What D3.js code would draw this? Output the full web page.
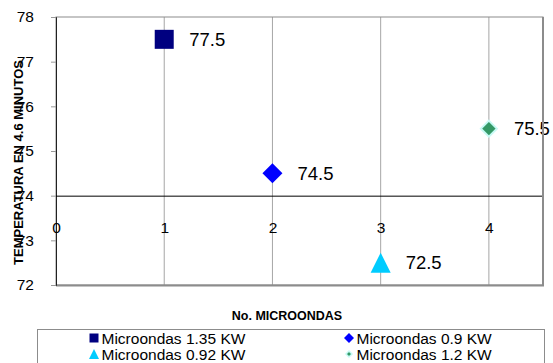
<!DOCTYPE html>
<html>
<head>
<meta charset="utf-8">
<script src="https://cdn.jsdelivr.net/npm/d3@7/dist/d3.min.js"></script>
<style>
  html, body { margin: 0; padding: 0; background: #fff; }
  svg { display: block; font-family: "Liberation Sans", Arial, sans-serif; }
</style>
</head>
<body>
<svg id="chart" width="553" height="363"></svg>
<script>
// Series: one point per microwave oven
const seriesNames = ["Microondas 1.35 KW", "Microondas 0.9 KW", "Microondas 0.92 KW", "Microondas 1.2 KW"];
const microondas = [1, 2, 3, 4];
const temperaturas = [77.5, 74.5, 72.5, 75.5];
const yTicks = [72, 73, 74, 75, 76, 77, 78];
const xTicks = [0, 1, 2, 3, 4];

// marker shapes: size = width in px
const squareShape = {
  draw(ctx, w) { const h = w / 2; ctx.moveTo(-h, -h); ctx.lineTo(h, -h); ctx.lineTo(h, h); ctx.lineTo(-h, h); ctx.closePath(); }
};
const diamondShape = {
  draw(ctx, w) { const h = w / 2; ctx.moveTo(0, -h); ctx.lineTo(h, 0); ctx.lineTo(0, h); ctx.lineTo(-h, 0); ctx.closePath(); }
};
const triangleShape = {
  draw(ctx, w) { const h = w / 2; ctx.moveTo(0, -h); ctx.lineTo(h, h); ctx.lineTo(-h, h); ctx.closePath(); }
};

const symbolsSpec = [
  { type: squareShape, size: 19, fill: "#000080", stroke: "none", lSize: 9 },
  { type: diamondShape, size: 20, fill: "#0000FF", stroke: "none", lSize: 10 },
  { type: triangleShape, size: 20, fill: "#00CCFF", stroke: "none", lSize: 10 },
  { type: diamondShape, size: 16, fill: "#339966", stroke: "#C8FAF5", lSize: 6 }
];

const svg = d3.select("#chart");
const plot = { left: 56, right: 543, top: 17, bottom: 285 };

const x = d3.scaleLinear().domain([0, 4.5]).range([plot.left, plot.right]);
const y = d3.scaleLinear().domain([72, 78]).range([plot.bottom, plot.top]);

// vertical gridlines
svg.append("g")
  .selectAll("line")
  .data(xTicks.filter(d => d > 0))
  .join("line")
  .attr("x1", d => x(d)).attr("x2", d => x(d))
  .attr("y1", plot.top).attr("y2", plot.bottom)
  .attr("stroke", "#a6a6a6").attr("stroke-width", 1);

// plot frame
svg.append("rect")
  .attr("x", plot.left).attr("y", plot.top)
  .attr("width", plot.right - plot.left).attr("height", plot.bottom - plot.top)
  .attr("fill", "none").attr("stroke", "#8c8c8c").attr("stroke-width", 1);
svg.append("line")
  .attr("x1", plot.left).attr("x2", plot.right + 1)
  .attr("y1", plot.bottom + 0.5).attr("y2", plot.bottom + 0.5)
  .attr("stroke", "#8c8c8c").attr("stroke-width", 2);

// y axis
const yAxis = svg.append("g")
  .attr("transform", `translate(${plot.left},0)`)
  .call(d3.axisLeft(y).tickValues(yTicks).tickSize(5).tickPadding(17).tickFormat(d3.format("d")));
yAxis.select(".domain").attr("stroke", "#222");
yAxis.selectAll(".tick line").attr("stroke", "#999");
yAxis.selectAll(".tick text")
  .attr("font-size", "15.5px").attr("fill", "#000")
  .attr("font-family", "Liberation Sans, Arial, sans-serif");

// x axis crossing at 74
const xAxis = svg.append("g")
  .attr("transform", `translate(0,${y(74)})`)
  .call(d3.axisBottom(x).tickValues(xTicks).tickSize(0).tickPadding(26).tickFormat(d3.format("d")));
xAxis.select(".domain").attr("stroke", "#000").attr("d", `M${plot.left},0.5H${plot.right}`);
xAxis.selectAll(".tick text")
  .attr("font-size", "15.5px").attr("fill", "#000")
  .attr("font-family", "Liberation Sans, Arial, sans-serif");

// points
const pts = microondas.map((m, i) => ({ m, t: temperaturas[i], s: symbolsSpec[i] }));
svg.append("g")
  .selectAll("path")
  .data(pts)
  .join("path")
  .attr("transform", d => `translate(${x(d.m)},${y(d.t)})`)
  .attr("d", d => d3.symbol().type(d.s.type).size(d.s.size)())
  .attr("fill", d => d.s.fill)
  .attr("stroke", d => d.s.stroke)
  .attr("stroke-width", 2);

// value labels
svg.append("g")
  .selectAll("text")
  .data(pts)
  .join("text")
  .attr("x", d => x(d.m) + 25)
  .attr("y", d => y(d.t) + 6.5)
  .attr("font-size", "18.5px")
  .attr("fill", "#000")
  .text(d => d.t.toFixed(1));

// right frame edge drawn over the label that crosses it
svg.append("line")
  .attr("x1", plot.right).attr("x2", plot.right)
  .attr("y1", plot.top).attr("y2", plot.bottom + 1)
  .attr("stroke", "#8c8c8c").attr("stroke-width", 2);

// axis titles
svg.append("text")
  .attr("transform", `translate(23,162.5) rotate(-90)`)
  .attr("text-anchor", "middle")
  .attr("font-size", "13px").attr("font-weight", "bold")
  .text("TEMPERATURA EN 4.6 MINUTOS");
svg.append("text")
  .attr("x", 287).attr("y", 320)
  .attr("text-anchor", "middle")
  .attr("font-size", "12.5px").attr("font-weight", "bold")
  .text("No. MICROONDAS");

// legend
const legend = svg.append("g");
legend.append("rect")
  .attr("x", 37.5).attr("y", 329.5)
  .attr("width", 507).attr("height", 40)
  .attr("fill", "#fff").attr("stroke", "#8c8c8c");
const legendPos = [
  { mx: 94, ty: 343.5 },
  { mx: 349, ty: 343.5 },
  { mx: 94, ty: 359.5 },
  { mx: 349, ty: 359.5 }
];
seriesNames.forEach((name, i) => {
  const p = legendPos[i], s = symbolsSpec[i];
  legend.append("path")
    .attr("transform", `translate(${p.mx},${p.ty - 5.5})`)
    .attr("d", d3.symbol().type(s.type).size(s.lSize)())
    .attr("fill", s.fill)
    .attr("stroke", s.stroke).attr("stroke-width", 1.5);
  legend.append("text")
    .attr("x", p.mx + 7.5).attr("y", p.ty)
    .attr("font-size", "15.5px").attr("fill", "#000")
    .text(name);
});
</script>
</body>
</html>
